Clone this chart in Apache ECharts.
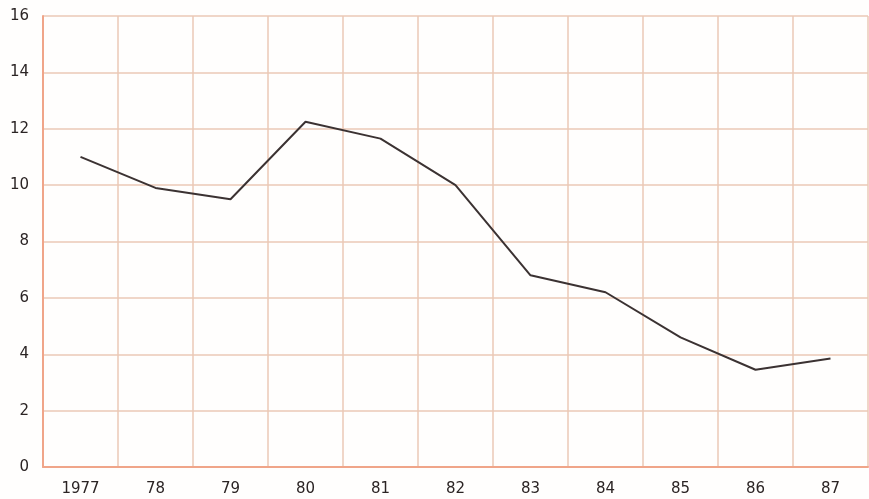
<!DOCTYPE html>
<html>
<head>
<meta charset="utf-8">
<script src="https://cdn.jsdelivr.net/npm/echarts@6/dist/echarts.min.js"></script>
<style>
  html, body { margin: 0; padding: 0; background: #fffefd; }
  #chart { width: 869px; height: 499px; }
</style>
</head>
<body>
<div id="chart"></div>
<script>
// data
const years = ['1977', '78', '79', '80', '81', '82', '83', '84', '85', '86', '87'];
const values = [11.0, 9.9, 9.5, 12.25, 11.65, 10.0, 6.8, 6.2, 4.6, 3.45, 3.85];
const yTicks = [0, 2, 4, 6, 8, 10, 12, 14, 16];

const chart = echarts.init(document.getElementById('chart'));

const gridColor = '#ebc9b6';
const axisColor = '#f0a589';
const textColor = '#2b2424';

const option = {
    backgroundColor: '#fffefd',
    animation: false,
    grid: { left: 43, right: 1, top: 16, bottom: 32 },
    xAxis: {
        type: 'category',
        data: years,
        boundaryGap: true,
        axisLine: { lineStyle: { color: axisColor, width: 2 } },
        axisTick: { show: false },
        splitLine: { show: true, lineStyle: { color: gridColor, width: 1.5 } },
        axisLabel: {
            color: textColor,
            fontFamily: 'DejaVu Sans',
            fontSize: 15,
            margin: 15,
            interval: 0
        }
    },
    yAxis: {
        type: 'value',
        min: yTicks[0],
        max: yTicks[yTicks.length - 1],
        interval: 2,
        axisLine: { show: true, lineStyle: { color: axisColor, width: 2 } },
        axisTick: { show: false },
        splitLine: { show: true, lineStyle: { color: gridColor, width: 1.5 } },
        axisLabel: {
            color: textColor,
            fontFamily: 'DejaVu Sans',
            fontSize: 15,
            margin: 14
        }
    },
    series: [{
        type: 'line',
        data: values,
        symbol: 'none',
        lineStyle: { color: '#3b3232', width: 2 }
    }]
};

chart.setOption(option);
window.addEventListener('resize', () => chart.resize());
</script>
</body>
</html>
